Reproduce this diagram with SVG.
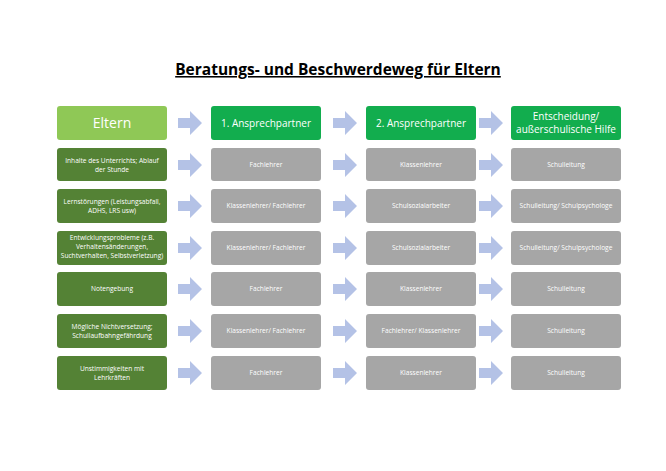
<svg xmlns="http://www.w3.org/2000/svg" width="666" height="471" viewBox="0 0 666 471">
<style>
text{font-family:"Open Sans","Liberation Sans",sans-serif;text-anchor:middle;fill:#fff}
.t{font-size:6.6px}
.h{font-size:10px}
.g{fill:#a6a6a6}
.d{fill:#548235}
.hd{fill:#12ad4e}
.ar{fill:#b4c2e6}
</style>
<rect width="666" height="471" fill="#fff"/>
<text x="338" y="75" style="font-size:15.5px;font-weight:bold;fill:#000;text-decoration:underline">Beratungs- und Beschwerdeweg für Eltern</text>
<g id="connectors">
<g id="arrows-r0"><path class="ar" d="M178 118h12v-7l12 12-12 12v-7h-12z"/><path class="ar" d="M333 118h12v-7l12 12-12 12v-7h-12z"/><path class="ar" d="M479 118h12v-7l12 12-12 12v-7h-12z"/></g>
<g id="arrows-r1"><path class="ar" d="M178 160h12v-7l12 12-12 12v-7h-12z"/><path class="ar" d="M333 160h12v-7l12 12-12 12v-7h-12z"/><path class="ar" d="M479 160h12v-7l12 12-12 12v-7h-12z"/></g>
<g id="arrows-r2"><path class="ar" d="M178 201h12v-7l12 12-12 12v-7h-12z"/><path class="ar" d="M333 201h12v-7l12 12-12 12v-7h-12z"/><path class="ar" d="M479 201h12v-7l12 12-12 12v-7h-12z"/></g>
<g id="arrows-r3"><path class="ar" d="M178 243h12v-7l12 12-12 12v-7h-12z"/><path class="ar" d="M333 243h12v-7l12 12-12 12v-7h-12z"/><path class="ar" d="M479 243h12v-7l12 12-12 12v-7h-12z"/></g>
<g id="arrows-r4"><path class="ar" d="M178 284h12v-7l12 12-12 12v-7h-12z"/><path class="ar" d="M333 284h12v-7l12 12-12 12v-7h-12z"/><path class="ar" d="M479 284h12v-7l12 12-12 12v-7h-12z"/></g>
<g id="arrows-r5"><path class="ar" d="M178 326h12v-7l12 12-12 12v-7h-12z"/><path class="ar" d="M333 326h12v-7l12 12-12 12v-7h-12z"/><path class="ar" d="M479 326h12v-7l12 12-12 12v-7h-12z"/></g>
<g id="arrows-r6"><path class="ar" d="M178 368h12v-7l12 12-12 12v-7h-12z"/><path class="ar" d="M333 368h12v-7l12 12-12 12v-7h-12z"/><path class="ar" d="M479 368h12v-7l12 12-12 12v-7h-12z"/></g>
</g>
<g id="eltern"><rect x="57" y="106" width="110" height="34" rx="3" fill="#8fc856"/><text x="112" y="128" style="font-size:14px">Eltern</text></g>
<g id="ap1"><rect x="211" y="106" width="110" height="34" rx="3" class="hd"/><text x="266" y="127" class="h">1. Ansprechpartner</text></g>
<g id="ap2"><rect x="366" y="106" width="110" height="34" rx="3" class="hd"/><text x="421" y="127" class="h">2. Ansprechpartner</text></g>
<g id="ent"><rect x="511" y="106" width="110" height="34" rx="3" class="hd"/><text x="566" y="120" class="h">Entscheidung/</text><text x="566" y="133" class="h">außerschulische Hilfe</text></g>

<g id="r1c1"><rect x="57" y="148" width="110" height="33" rx="3" class="d"/><text x="112" y="163" class="t">Inhalte des Unterrichts; Ablauf</text><text x="112" y="172" class="t">der Stunde</text></g>
<g id="r1c2"><rect x="211" y="148" width="110" height="33" rx="3" class="g"/><text x="266" y="167" class="t">Fachlehrer</text></g>
<g id="r1c3"><rect x="366" y="148" width="110" height="33" rx="3" class="g"/><text x="421" y="167" class="t">Klassenlehrer</text></g>
<g id="r1c4"><rect x="511" y="148" width="110" height="33" rx="3" class="g"/><text x="566" y="167" class="t">Schulleitung</text></g>

<g id="r2c1"><rect x="57" y="189" width="110" height="34" rx="3" class="d"/><text x="112" y="204" class="t">Lernstörungen (Leistungsabfall,</text><text x="112" y="213" class="t">ADHS, LRS usw)</text></g>
<g id="r2c2"><rect x="211" y="189" width="110" height="34" rx="3" class="g"/><text x="266" y="208" class="t">Klassenlehrer/ Fachlehrer</text></g>
<g id="r2c3"><rect x="366" y="189" width="110" height="34" rx="3" class="g"/><text x="421" y="208" class="t">Schulsozialarbeiter</text></g>
<g id="r2c4"><rect x="511" y="189" width="110" height="34" rx="3" class="g"/><text x="566" y="208" class="t">Schulleitung/ Schulpsychologe</text></g>

<g id="r3c1"><rect x="57" y="231" width="110" height="34" rx="3" class="d"/><text x="112" y="240" class="t">Entwicklungsprobleme (z.B.</text><text x="112" y="249" class="t">Verhaltensänderungen,</text><text x="112" y="258" class="t">Suchtverhalten, Selbstverletzung)</text></g>
<g id="r3c2"><rect x="211" y="231" width="110" height="34" rx="3" class="g"/><text x="266" y="250" class="t">Klassenlehrer/ Fachlehrer</text></g>
<g id="r3c3"><rect x="366" y="231" width="110" height="34" rx="3" class="g"/><text x="421" y="250" class="t">Schulsozialarbeiter</text></g>
<g id="r3c4"><rect x="511" y="231" width="110" height="34" rx="3" class="g"/><text x="566" y="250" class="t">Schulleitung/ Schulpsychologe</text></g>

<g id="r4c1"><rect x="57" y="272" width="110" height="34" rx="3" class="d"/><text x="112" y="291" class="t">Notengebung</text></g>
<g id="r4c2"><rect x="211" y="272" width="110" height="34" rx="3" class="g"/><text x="266" y="291" class="t">Fachlehrer</text></g>
<g id="r4c3"><rect x="366" y="272" width="110" height="34" rx="3" class="g"/><text x="421" y="291" class="t">Klassenlehrer</text></g>
<g id="r4c4"><rect x="511" y="272" width="110" height="34" rx="3" class="g"/><text x="566" y="291" class="t">Schulleitung</text></g>

<g id="r5c1"><rect x="57" y="314" width="110" height="34" rx="3" class="d"/><text x="112" y="329" class="t">Mögliche Nichtversetzung;</text><text x="112" y="338" class="t">Schullaufbahngefährdung</text></g>
<g id="r5c2"><rect x="211" y="314" width="110" height="34" rx="3" class="g"/><text x="266" y="333" class="t">Klassenlehrer/ Fachlehrer</text></g>
<g id="r5c3"><rect x="366" y="314" width="110" height="34" rx="3" class="g"/><text x="421" y="333" class="t">Fachlehrer/ Klassenlehrer</text></g>
<g id="r5c4"><rect x="511" y="314" width="110" height="34" rx="3" class="g"/><text x="566" y="333" class="t">Schulleitung</text></g>

<g id="r6c1"><rect x="57" y="356" width="110" height="34" rx="3" class="d"/><text x="112" y="371" class="t">Unstimmigkeiten mit</text><text x="112" y="380" class="t">Lehrkräften</text></g>
<g id="r6c2"><rect x="211" y="356" width="110" height="34" rx="3" class="g"/><text x="266" y="375" class="t">Fachlehrer</text></g>
<g id="r6c3"><rect x="366" y="356" width="110" height="34" rx="3" class="g"/><text x="421" y="375" class="t">Klassenlehrer</text></g>
<g id="r6c4"><rect x="511" y="356" width="110" height="34" rx="3" class="g"/><text x="566" y="375" class="t">Schulleitung</text></g>
</svg>
